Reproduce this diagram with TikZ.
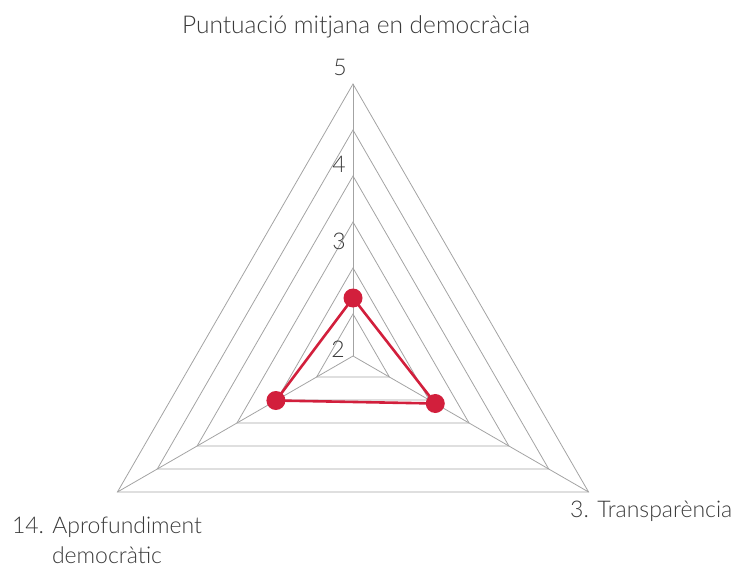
\documentclass[tikz,border=0pt]{standalone}
\usepackage{fontspec}
\setmainfont{Lato}[UprightFont={* Light}]
\usetikzlibrary{positioning}
\definecolor{chartred}{HTML}{D21F3C}
\definecolor{gridgray}{HTML}{A3A3A3}
\definecolor{labelgray}{HTML}{3A3A3A}
\tikzset{
        % Grid triangles and axes
        grid_line/.style={draw=gridgray, line width=0.8pt},
        % Score points
        node_score/.style={circle, fill=chartred, inner sep=0pt, minimum size=19pt},
        % Score polygon
        score_line/.style={draw=chartred, line width=2.6pt, line join=round},
        % Text labels
        node_label/.style={text=labelgray, inner sep=0pt, font=\fontsize{23}{30}\selectfont}
}
\begin{document}
\begin{tikzpicture}[x=1pt, y=1pt]
            \useasboundingbox (0,0) rectangle (736,574);
            \begin{scope}[shift={(353,218)}]
                \coordinate (O) at (0,0);
                \coordinate (top) at (90:272);
                \coordinate (left) at (210:272);
                \coordinate (right) at (330:272);
                % Triangles
                \draw[grid_line] (top) -- (left) -- (right) -- cycle;
                \draw[grid_line] (90:226) -- (210:226) -- (330:226) -- cycle;
                \draw[grid_line] (90:180) -- (210:180) -- (330:180) -- cycle;
                \draw[grid_line] (90:134) -- (210:134) -- (330:134) -- cycle;
                \draw[grid_line] (90:88) -- (210:88) -- (330:88) -- cycle;
                \draw[grid_line] (90:42) -- (210:42) -- (330:42) -- cycle;
                % Axes
                \draw[grid_line] (O) -- (top);
                \draw[grid_line] (O) -- (left);
                \draw[grid_line] (O) -- (right);
                % Scores
                \node[node_score] (p_dem) at (90:58) {};
                \node[node_score] (p_apr) at (210:89) {};
                \node[node_score] (p_tra) at (330:95) {};
                \draw[score_line] (p_dem.center) -- (p_apr.center) -- (p_tra.center) -- cycle;
            \end{scope}
            % Labels
            \node[node_label, anchor=base, font=\fontsize{24.5}{30}\selectfont] (title) at (356,540) {Puntuació mitjana en democràcia};
            \node[node_label, anchor=base] (tick5) at (340,498) {5};
            \node[node_label, anchor=base] (tick4) at (339,401) {4};
            \node[node_label, anchor=base] (tick3) at (339,325) {3};
            \node[node_label, anchor=base] (tick2) at (338,217) {2};
            \node[node_label, anchor=north, align=center] (lab_apr) at (107,57) {14. Aprofundiment\\democràtic};
            \node[node_label, anchor=base west] (lab_tra) at (570,57) {3. Transparència};
        \end{tikzpicture}
\end{document}
